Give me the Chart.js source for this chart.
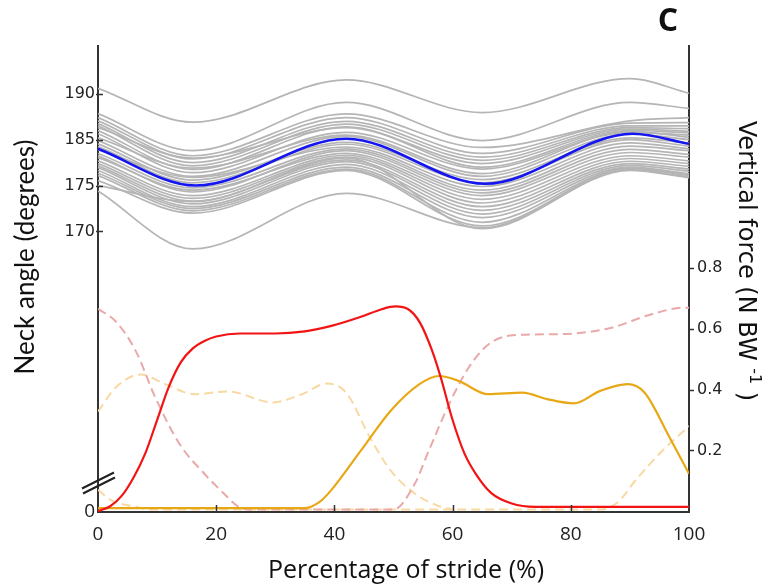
<!DOCTYPE html>
<html>
<head>
<meta charset="utf-8">
<script src="https://cdn.jsdelivr.net/npm/chart.js@4/dist/chart.umd.min.js"></script>
<style>
  html, body { margin: 0; padding: 0; background: #fff; }
  #wrap { width: 766px; height: 586px; position: relative; }
</style>
</head>
<body>
<div id="wrap"><canvas id="neck-chart"></canvas></div>
<script>
// neck angle vs stride, with vertical force traces underneath

// key stride positions (%) for the neck angle traces
const angleX = [0, 16, 42, 65, 90, 100];

// individual trials (degrees)
const greyTrials = [
  [196.2, 188.8, 198.0, 190.9, 198.3, 195.1],
  [190.7, 182.6, 193.1, 184.8, 193.1, 191.8],
  [189.8, 181.5, 190.6, 183.3, 189.1, 189.8],
  [189.1, 180.8, 189.8, 182.0, 188.6, 188.7],
  [188.5, 180.0, 189.0, 181.2, 188.0, 188.0],
  [188.0, 179.3, 188.4, 180.5, 187.6, 187.4],
  [187.6, 181.0, 187.6, 179.8, 187.3, 186.8],
  [187.0, 178.5, 187.8, 179.0, 187.0, 186.5],
  [186.3, 177.8, 186.6, 178.6, 186.6, 186.0],
  [185.4, 178.8, 186.0, 177.6, 186.8, 185.5],
  [184.8, 177.0, 185.7, 177.0, 186.2, 185.0],
  [184.1, 176.2, 184.4, 176.3, 185.4, 184.3],
  [183.5, 175.6, 184.0, 175.6, 185.0, 183.6],
  [182.8, 176.8, 183.4, 174.8, 184.3, 183.0],
  [182.0, 174.5, 183.0, 174.0, 183.6, 182.6],
  [181.5, 173.6, 182.6, 173.4, 182.9, 181.8],
  [181.1, 174.0, 182.0, 172.8, 182.2, 181.2],
  [180.4, 172.8, 181.6, 172.0, 181.5, 180.4],
  [179.8, 172.2, 181.2, 171.2, 180.9, 179.8],
  [179.3, 171.6, 180.6, 170.4, 180.3, 179.2],
  [178.9, 171.0, 180.2, 169.6, 179.8, 178.6],
  [178.3, 170.4, 179.6, 168.8, 179.4, 178.1],
  [177.7, 170.0, 179.0, 168.0, 179.0, 177.6],
  [177.2, 169.5, 178.6, 167.0, 178.7, 177.2],
  [176.1, 169.0, 178.3, 166.2, 178.4, 176.9],
  [175.0, 171.5, 181.0, 165.6, 178.3, 176.7],
  [173.8, 161.2, 173.3, 165.8, 178.8, 177.3]
];

// mean trace (degrees)
const meanX = [0, 16.5, 42, 65.5, 90.5, 100];
const meanAngle = [183.0, 175.0, 185.2, 175.4, 186.3, 184.1];

// left axis ticks (as printed on the figure)
const angleTickValues = [195, 185, 175, 165];
const angleTickLabels = ["190", "185", "175", "170"];
const angleMin = 103.9, angleMax = 205.4;

// vertical force (N BW-1)
const redX = [0, 2, 4, 6, 8, 10, 12, 14, 16, 18, 20, 24, 30, 35, 39.5, 44.5, 48, 50.3, 52.5, 54.5, 56.5, 58, 60, 62, 64, 66.5, 70, 74, 100];
const redY = [0, 0.015, 0.05, 0.11, 0.19, 0.3, 0.41, 0.49, 0.535, 0.56, 0.575, 0.585, 0.585, 0.592, 0.61, 0.64, 0.665, 0.674, 0.665, 0.62, 0.53, 0.44, 0.3, 0.19, 0.12, 0.06, 0.025, 0.014, 0.014];

const pinkX = [0, 3, 6.4, 9.7, 13.8, 18, 21.3, 23.8, 26, 50, 53.6, 56, 59.4, 62.7, 66, 70.2, 78.5, 86.7, 93.4, 99.2, 100];
const pinkY = [0.666, 0.625, 0.527, 0.374, 0.221, 0.123, 0.058, 0.014, 0.005, 0.005, 0.09, 0.2, 0.352, 0.472, 0.548, 0.579, 0.583, 0.603, 0.647, 0.67, 0.67];

const orangeX = [0, 35, 37.5, 39.5, 44.5, 49.5, 54.4, 57.7, 61, 66, 71.8, 76, 80.5, 85, 89.6, 92.5, 96.7, 100];
const orangeY = [0.01, 0.01, 0.03, 0.07, 0.2, 0.33, 0.418, 0.445, 0.429, 0.385, 0.39, 0.369, 0.355, 0.396, 0.418, 0.39, 0.243, 0.123];

const paleAX = [0, 3, 7.2, 11.4, 16.3, 22, 29.6, 34.5, 38.7, 42, 46, 49.5, 53.6, 57.7, 60];
const paleAY = [0.328, 0.407, 0.45, 0.418, 0.385, 0.394, 0.358, 0.385, 0.42, 0.39, 0.243, 0.134, 0.058, 0.016, 0.005];
const paleBX = [0, 2.2, 6.4, 9, 85, 88, 90.9, 95, 100];
const paleBY = [0.07, 0.036, 0.014, 0.005, 0.005, 0.03, 0.1, 0.189, 0.28];

const forceTicks = [0.2, 0.4, 0.6, 0.8];
const strideTicks = [20, 40, 60, 80];

const pts = (xs, ys) => xs.map((x, i) => ({ x: x, y: ys[i] }));

const datasets = [];
datasets.push({
  data: pts(meanX, meanAngle), yAxisID: "yAngle",
  borderColor: "#1515f0", borderWidth: 2.6, order: 0
});
datasets.push({
  data: pts(redX, redY), yAxisID: "yForce",
  borderColor: "#f21414", borderWidth: 2.2, order: 1
});
datasets.push({
  data: pts(orangeX, orangeY), yAxisID: "yForce",
  borderColor: "#e8a816", borderWidth: 2.2, order: 2
});
datasets.push({
  data: pts(pinkX, pinkY), yAxisID: "yForce",
  borderColor: "#e9a9a9", borderWidth: 2, borderDash: [9, 5], order: 3
});
datasets.push({
  data: pts(paleAX, paleAY), yAxisID: "yForce",
  borderColor: "#f8d9a4", borderWidth: 2, borderDash: [9, 5], order: 4
});
datasets.push({
  data: pts(paleBX, paleBY), yAxisID: "yForce",
  borderColor: "#f8d9a4", borderWidth: 2, borderDash: [9, 5], order: 4
});
greyTrials.forEach((trial) => {
  datasets.push({
    data: pts(angleX, trial), yAxisID: "yAngle",
    borderColor: "#b5b5b5", borderWidth: 1.7, order: 10
  });
});

// tick marks, axis break, titles and panel letter
const decorations = {
  id: "decorations",
  afterDraw(chart) {
    const { ctx, chartArea: a, scales } = chart;
    const x = scales.x, yl = scales.yAngle, yr = scales.yForce;
    ctx.save();
    ctx.strokeStyle = "#333";
    ctx.lineWidth = 1.5;
    ctx.beginPath();
    strideTicks.forEach((v) => {
      const px = Math.round(x.getPixelForValue(v)) + 0.5;
      ctx.moveTo(px, a.bottom);
      ctx.lineTo(px, a.bottom - 7);
    });
    angleTickValues.forEach((v) => {
      const py = Math.round(yl.getPixelForValue(v)) + 0.5;
      ctx.moveTo(a.left - 2, py);
      ctx.lineTo(a.left + 5, py);
    });
    forceTicks.forEach((v) => {
      const py = Math.round(yr.getPixelForValue(v)) + 0.5;
      ctx.moveTo(a.right, py);
      ctx.lineTo(a.right + 5, py);
    });
    ctx.stroke();

    // axis break marks
    ctx.strokeStyle = "#222";
    ctx.lineWidth = 2;
    ctx.beginPath();
    ctx.moveTo(82, 488.5); ctx.lineTo(114, 472.5);
    ctx.moveTo(83, 493.5); ctx.lineTo(115, 477.5);
    ctx.stroke();

    ctx.fillStyle = "#111";
    // left title
    ctx.save();
    ctx.translate(26, 257);
    ctx.rotate(-Math.PI / 2);
    ctx.font = "26px Lato";
    ctx.textAlign = "center";
    ctx.textBaseline = "middle";
    ctx.fillText("Neck angle (degrees)", 0, 0);
    ctx.restore();

    // right title with superscript
    ctx.save();
    ctx.translate(745, 261);
    ctx.rotate(Math.PI / 2);
    ctx.textBaseline = "middle";
    ctx.textAlign = "left";
    const main = "Vertical force (N BW ", sup = "-1", tail = " )";
    ctx.font = "24px 'DejaVu Sans'";
    const w1 = ctx.measureText(main).width, w3 = ctx.measureText(tail).width;
    ctx.font = "16px 'DejaVu Sans'";
    const w2 = ctx.measureText(sup).width;
    let cx = -(w1 + w2 + w3) / 2;
    ctx.font = "24px 'DejaVu Sans'";
    ctx.fillText(main, cx, 0);
    cx += w1;
    ctx.font = "16px 'DejaVu Sans'";
    ctx.fillText(sup, cx, -9);
    cx += w2;
    ctx.font = "24px 'DejaVu Sans'";
    ctx.fillText(tail, cx, 0);
    ctx.restore();

    // x title
    ctx.font = "25px 'Open Sans'";
    ctx.textAlign = "center";
    ctx.textBaseline = "alphabetic";
    ctx.fillText("Percentage of stride (%)", 406, 578);

    // panel letter
    ctx.font = "bold 32px 'Open Sans'";
    ctx.textBaseline = "middle";
    ctx.fillText("C", 668, 22);
    ctx.restore();
  }
};

new Chart(document.getElementById("neck-chart"), {
  type: "line",
  data: { datasets: datasets },
  options: {
    responsive: true,
    maintainAspectRatio: false,
    animation: false,
    layout: { padding: { top: 46, left: 0, right: 0, bottom: 0 } },
    elements: {
      point: { radius: 0 },
      line: { cubicInterpolationMode: "monotone", fill: false }
    },
    plugins: { legend: { display: false }, tooltip: { enabled: false } },
    scales: {
      x: {
        type: "linear", min: 0, max: 100,
        afterFit: (s) => { s.height = 74; },
        afterBuildTicks: (s) => { s.ticks = [0, 20, 40, 60, 80, 100].map((v) => ({ value: v })); },
        grid: { display: false, drawTicks: false },
        border: { display: true, color: "#333", width: 2 },
        ticks: { color: "#222", padding: 11, font: { family: "'Open Sans'", size: 19 }, maxRotation: 0 }
      },
      yAngle: {
        type: "linear", position: "left", min: angleMin, max: angleMax,
        afterFit: (s) => { s.width = 98; },
        afterBuildTicks: (s) => {
          s.ticks = angleTickValues.map((v) => ({ value: v })).concat([{ value: angleMin }]);
        },
        grid: { display: false, drawTicks: false },
        border: { display: true, color: "#333", width: 2 },
        ticks: {
          color: "#222", padding: 3,
          font: (c) => c.tick && c.tick.value === angleMin
            ? { family: "'Open Sans'", size: 19 }
            : { family: "'DejaVu Sans'", size: 16 },
          callback: (v) => {
            const i = angleTickValues.indexOf(v);
            return i >= 0 ? angleTickLabels[i] : "0";
          }
        }
      },
      yForce: {
        type: "linear", position: "right", min: -0.003, max: 1.532,
        afterFit: (s) => { s.width = 77; },
        afterBuildTicks: (s) => { s.ticks = forceTicks.map((v) => ({ value: v })); },
        grid: { display: false, drawTicks: false },
        border: { display: true, color: "#333", width: 2 },
        ticks: {
          color: "#222", padding: 8,
          font: { family: "'DejaVu Sans'", size: 16 },
          callback: (v) => v.toFixed(1)
        }
      }
    }
  },
  plugins: [decorations]
});
</script>
</body>
</html>
